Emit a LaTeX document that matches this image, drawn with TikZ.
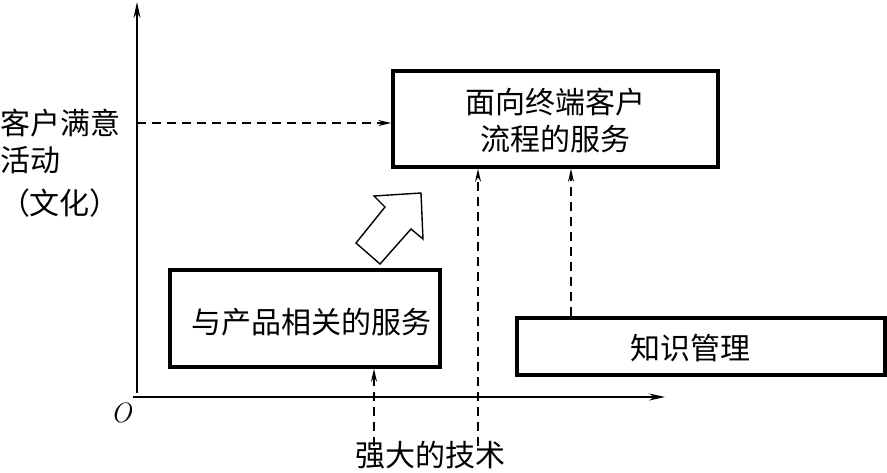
\documentclass[tikz,border=0pt]{standalone}
\usepackage{fontspec}
\newfontfamily\cjk{Noto Sans CJK SC}
\usetikzlibrary{arrows.meta}
\begin{document}
\begin{tikzpicture}[x=1pt,y=-1pt,
  box/.style={draw,line width=3.6pt,inner sep=0pt},
  lbl/.style={font=\cjk\fontsize{30}{37}\selectfont,inner sep=0pt,align=center},
  axis/.style={line width=1.5pt,-{Stealth[length=16pt,width=7pt]}},
  dsh/.style={line width=1.4pt,dash pattern=on 9pt off 6pt,-{Stealth[length=13pt,width=6pt]}}]
\useasboundingbox (0,0) rectangle (887,472);
% axes
\coordinate (O) at (137,397);
\coordinate (ytop) at (137,2);
\coordinate (xend) at (665,397);
\draw[axis] ([xshift=-4pt]O) -- (xend);
\draw[axis] ([yshift=4pt]O) -- (ytop);
\node[font=\itshape\fontsize{28}{28}\selectfont,inner sep=0pt] (Olab) at (121,413) {O};
% boxes
\node[box,minimum width=325pt,minimum height=96pt] (top) at (555.5,119) {};
\node[lbl] (toptxt) at (555.5,120) {面向终端客户\\流程的服务};
\node[box,minimum width=270pt,minimum height=97pt] (prod) at (305,318.5) {};
\node[lbl] (prodtxt) at (311,322) {与产品相关的服务};
\node[box,minimum width=368pt,minimum height=57pt] (know) at (701,346.5) {};
\node[lbl] (knowtxt) at (690,348) {知识管理};
% left label
\node[lbl,anchor=west] (l1) at (0,123) {客户满意};
\node[lbl,anchor=west] (l2) at (0,160) {活动};
\node[lbl] (l3) at (60,203) {（文化）};
\node[lbl] (tech) at (430,455) {强大的技术};
% dashed connectors
\coordinate (ya) at (137,123);
\draw[dsh] (ya) -- (top.west |- ya);
\coordinate (t1) at (478,446);
\draw[dsh] (t1) -- (t1 |- top.south);
\coordinate (t2) at (374,446);
\draw[dsh] (t2) -- (t2 |- prod.south);
\coordinate (k1) at (571,318);
\draw[dsh] (k1 |- know.north) -- (k1 |- top.south);
% block arrow
\draw[line width=1.4pt,fill=white] (421,193) -- (374,196) -- (385,207) -- (356,243) -- (380,264) -- (411,229) -- (423,239) -- cycle;
\end{tikzpicture}
\end{document}
